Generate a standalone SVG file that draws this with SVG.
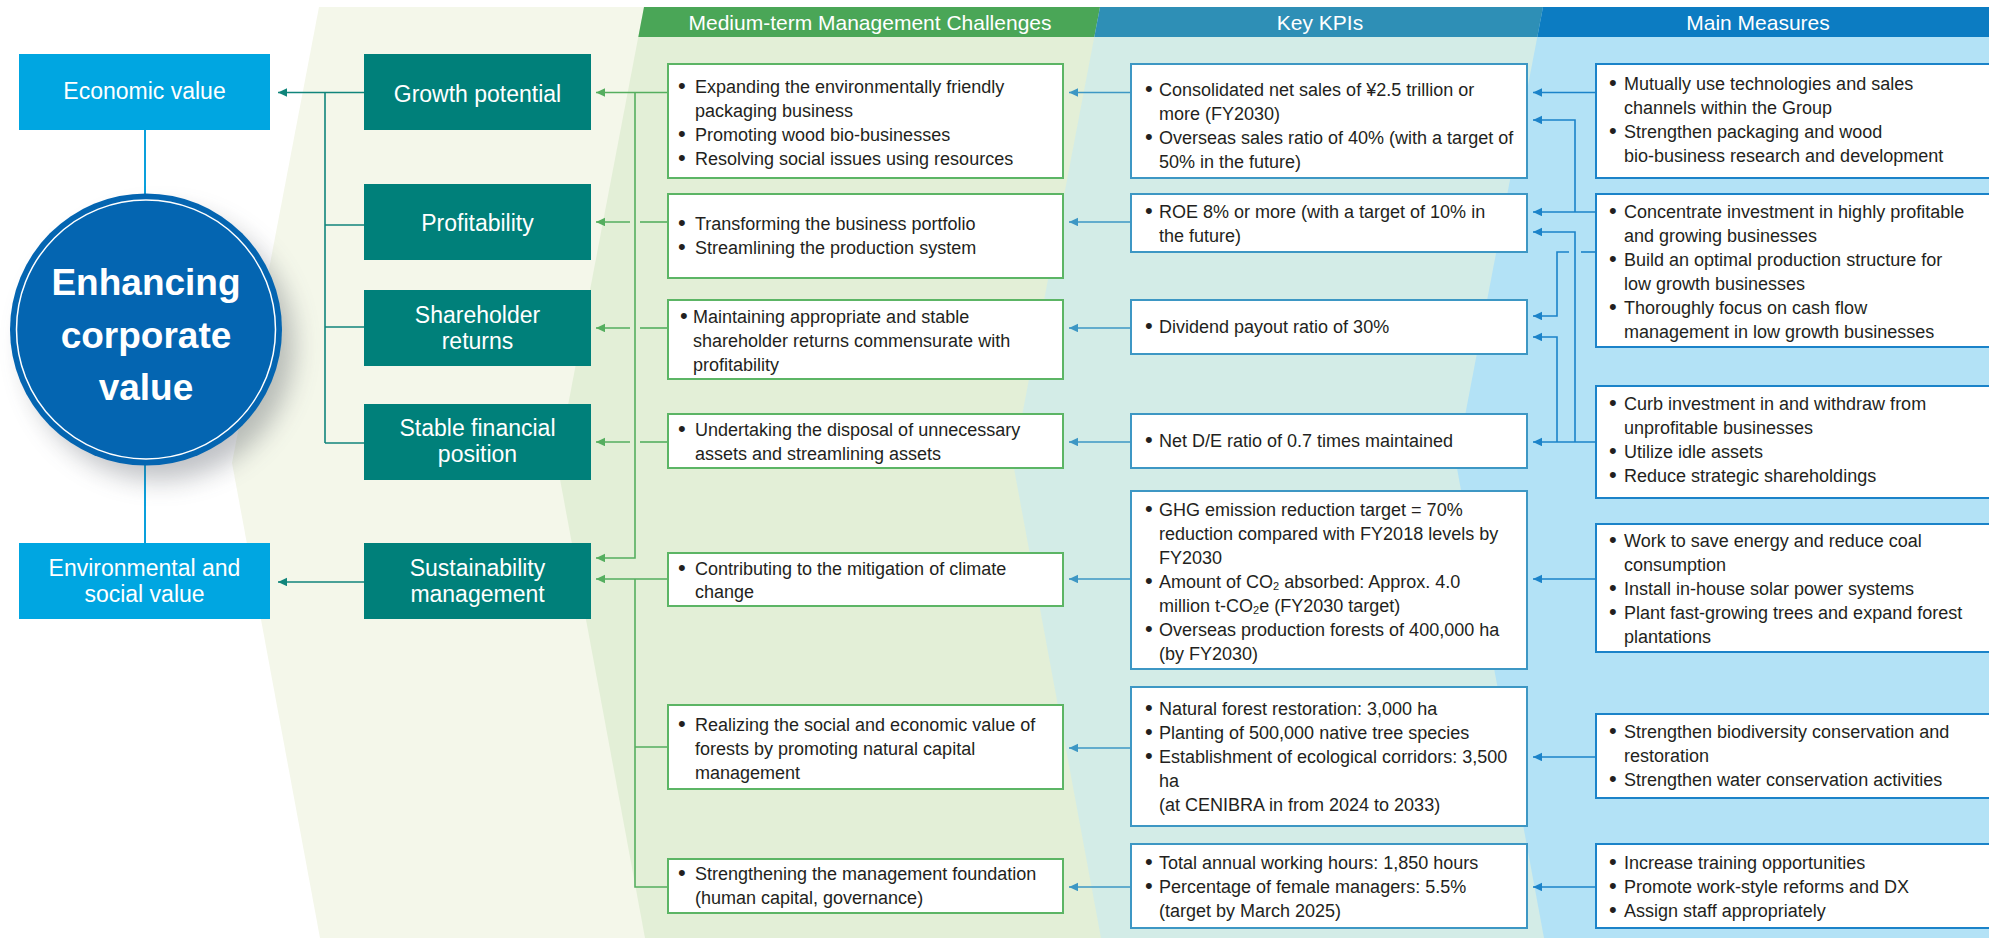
<svg xmlns="http://www.w3.org/2000/svg" width="1989" height="938" viewBox="0 0 1989 938">
<defs>
<style>
text{font-family:"Liberation Sans",Arial,Helvetica,sans-serif;}
.t{font-size:18px;fill:#231f20;}
.b{font-size:22px;}
.w{font-size:23px;fill:#fff;text-anchor:middle;}
.h{font-size:21px;fill:#fff;text-anchor:middle;}
.big{font-size:37px;font-weight:bold;fill:#fff;text-anchor:middle;}
.ch{fill:#fff;stroke:#5cb565;stroke-width:2;}
.kp{fill:#fff;stroke:#3d97c4;stroke-width:2;}
.ms{fill:#fff;stroke:#1b83c9;stroke-width:2;}
.teal{fill:#00807a;}
.val{fill:#00a6e1;}
.cg{stroke:#55ae5f;stroke-width:1.6;fill:none;}
.ct{stroke:#10857b;stroke-width:1.6;fill:none;}
.ck{stroke:#3d97c4;stroke-width:1.6;fill:none;}
.cm{stroke:#1b83c9;stroke-width:1.6;fill:none;}
.cb{stroke:#0aa0dc;stroke-width:2;fill:none;}
.ag{marker-end:url(#mg);}
.at{marker-end:url(#mt);}
.ak{marker-end:url(#mk);}
.am{marker-end:url(#mm);}
</style>
<marker id="mg" markerUnits="userSpaceOnUse" markerWidth="10" markerHeight="10" refX="9" refY="4.25" orient="auto"><path d="M0,0 L9,4.25 L0,8.5 z" fill="#55ae5f"/></marker>
<marker id="mt" markerUnits="userSpaceOnUse" markerWidth="10" markerHeight="10" refX="9" refY="4.25" orient="auto"><path d="M0,0 L9,4.25 L0,8.5 z" fill="#10857b"/></marker>
<marker id="mk" markerUnits="userSpaceOnUse" markerWidth="10" markerHeight="10" refX="9" refY="4.25" orient="auto"><path d="M0,0 L9,4.25 L0,8.5 z" fill="#3d97c4"/></marker>
<marker id="mm" markerUnits="userSpaceOnUse" markerWidth="10" markerHeight="10" refX="9" refY="4.25" orient="auto"><path d="M0,0 L9,4.25 L0,8.5 z" fill="#1b83c9"/></marker>
<filter id="shadow" x="-50%" y="-50%" width="200%" height="200%"><feGaussianBlur stdDeviation="13"/></filter>
</defs>

<g id="background">
<rect x="0" y="0" width="1989" height="938" fill="#ffffff"/>
<polygon points="319,7 232,463 320,938 1989,938 1989,7" fill="#f4f7ea"/>
<polygon points="644,7 557,463 645,938 1989,938 1989,7" fill="#e3efd7"/>
<polygon points="1100,7 1013,463 1101,938 1989,938 1989,7" fill="#d3ece7"/>
<polygon points="1543,7 1456,463 1544,938 1989,938 1989,7" fill="#b3e2f6"/>
</g>

<g id="headers">
<polygon points="644,7 1100,7 1094.3,37 638.3,37" fill="#4aa657"/>
<polygon points="1100,7 1543,7 1537.3,37 1094.3,37" fill="#2e8fb6"/>
<polygon points="1543,7 1989,7 1989,37 1537.3,37" fill="#0c7cc2"/>
<text class="h" x="870" y="30">Medium-term Management Challenges</text>
<text class="h" x="1320" y="30">Key KPIs</text>
<text class="h" x="1758" y="30">Main Measures</text>
</g>

<g id="connectors">
<line class="cb" x1="145" y1="130" x2="145" y2="195"/>
<line class="cb" x1="145" y1="464" x2="145" y2="543"/>
<line class="ct at" x1="364" y1="92.5" x2="278" y2="92.5"/>
<line class="ct" x1="325" y1="92.5" x2="325" y2="443"/>
<line class="ct" x1="325" y1="225" x2="364" y2="225"/>
<line class="ct" x1="325" y1="327" x2="364" y2="327"/>
<line class="ct" x1="325" y1="443" x2="364" y2="443"/>
<line class="ct at" x1="364" y1="582" x2="278" y2="582"/>
<line class="cg ag" x1="668" y1="92.5" x2="596" y2="92.5"/>
<polyline class="cg ag" points="635,92.5 635,558 596,558"/>
<line class="cg" x1="668" y1="222" x2="640" y2="222"/>
<line class="cg ag" x1="630" y1="222" x2="596" y2="222"/>
<line class="cg" x1="668" y1="328" x2="640" y2="328"/>
<line class="cg ag" x1="630" y1="328" x2="596" y2="328"/>
<line class="cg" x1="668" y1="442" x2="640" y2="442"/>
<line class="cg ag" x1="630" y1="442" x2="596" y2="442"/>
<line class="cg ag" x1="668" y1="579" x2="596" y2="579"/>
<polyline class="cg" points="635,579 635,887 668,887"/>
<line class="cg" x1="635" y1="747" x2="668" y2="747"/>
<line class="ck ak" x1="1131" y1="92.5" x2="1069" y2="92.5"/>
<line class="ck ak" x1="1131" y1="222" x2="1069" y2="222"/>
<line class="ck ak" x1="1131" y1="328" x2="1069" y2="328"/>
<line class="ck ak" x1="1131" y1="442" x2="1069" y2="442"/>
<line class="ck ak" x1="1131" y1="579" x2="1069" y2="579"/>
<line class="ck ak" x1="1131" y1="748" x2="1069" y2="748"/>
<line class="ck ak" x1="1131" y1="887" x2="1069" y2="887"/>
<line class="cm am" x1="1596" y1="92.5" x2="1533" y2="92.5"/>
<polyline class="cm am" points="1575,212 1575,120 1533,120"/>
<line class="cm am" x1="1596" y1="212" x2="1533" y2="212"/>
<polyline class="cm am" points="1575,442 1575,232 1533,232"/>
<line class="cm" x1="1596" y1="252" x2="1581" y2="252"/>
<polyline class="cm am" points="1569,252 1557,252 1557,316 1533,316"/>
<polyline class="cm am" points="1557,442 1557,337 1533,337"/>
<line class="cm am" x1="1596" y1="442" x2="1533" y2="442"/>
<line class="cm am" x1="1596" y1="579" x2="1533" y2="579"/>
<line class="cm am" x1="1596" y1="757" x2="1533" y2="757"/>
<line class="cm am" x1="1596" y1="887" x2="1533" y2="887"/>
</g>

<g id="node-enhancing">
<circle cx="160" cy="346" r="134" fill="#4a4f5a" opacity="0.35" filter="url(#shadow)"/>
<circle cx="146" cy="329.5" r="136" fill="#0465b1"/>
<circle cx="146" cy="329.5" r="129.5" fill="none" stroke="#ffffff" stroke-width="1.5"/>
<text class="big" x="146" y="295">Enhancing</text>
<text class="big" x="146" y="348">corporate</text>
<text class="big" x="146" y="400">value</text>
</g>

<g id="node-economic">
<rect class="val" x="19" y="54" width="251" height="76"/>
<text class="w" x="144.5" y="99">Economic value</text>
</g>
<g id="node-envsocial">
<rect class="val" x="19" y="543" width="251" height="76"/>
<text class="w" x="144.5" y="576">Environmental and</text>
<text class="w" x="144.5" y="602">social value</text>
</g>

<g id="node-growth">
<rect class="teal" x="364" y="54" width="227" height="76"/>
<text class="w" x="477.5" y="102">Growth potential</text>
</g>
<g id="node-profitability">
<rect class="teal" x="364" y="184" width="227" height="76"/>
<text class="w" x="477.5" y="231">Profitability</text>
</g>
<g id="node-shareholder">
<rect class="teal" x="364" y="290" width="227" height="76"/>
<text class="w" x="477.5" y="323">Shareholder</text>
<text class="w" x="477.5" y="349">returns</text>
</g>
<g id="node-stable">
<rect class="teal" x="364" y="404" width="227" height="76"/>
<text class="w" x="477.5" y="436">Stable financial</text>
<text class="w" x="477.5" y="462">position</text>
</g>
<g id="node-sustainability">
<rect class="teal" x="364" y="543" width="227" height="76"/>
<text class="w" x="477.5" y="576">Sustainability</text>
<text class="w" x="477.5" y="602">management</text>
</g>

<g id="node-c1">
<rect class="ch" x="668" y="64" width="395" height="114"/>
<text class="t" y="93"><tspan class="b" x="678">•</tspan><tspan x="695">Expanding the environmentally friendly</tspan></text>
<text class="t" x="695" y="117">packaging business</text>
<text class="t" y="141"><tspan class="b" x="678">•</tspan><tspan x="695">Promoting wood bio-businesses</tspan></text>
<text class="t" y="165"><tspan class="b" x="678">•</tspan><tspan x="695">Resolving social issues using resources</tspan></text>
</g>
<g id="node-c2">
<rect class="ch" x="668" y="194" width="395" height="84"/>
<text class="t" y="230"><tspan class="b" x="678">•</tspan><tspan x="695">Transforming the business portfolio</tspan></text>
<text class="t" y="254"><tspan class="b" x="678">•</tspan><tspan x="695">Streamlining the production system</tspan></text>
</g>
<g id="node-c3">
<rect class="ch" x="668" y="300" width="395" height="79"/>
<text class="t" y="323"><tspan class="b" x="680">•</tspan><tspan x="693">Maintaining appropriate and stable</tspan></text>
<text class="t" x="693" y="347">shareholder returns commensurate with</text>
<text class="t" x="693" y="371">profitability</text>
</g>
<g id="node-c4">
<rect class="ch" x="668" y="414" width="395" height="54"/>
<text class="t" y="436"><tspan class="b" x="678">•</tspan><tspan x="695">Undertaking the disposal of unnecessary</tspan></text>
<text class="t" x="695" y="460">assets and streamlining assets</text>
</g>
<g id="node-c5">
<rect class="ch" x="668" y="553" width="395" height="53"/>
<text class="t" y="575"><tspan class="b" x="678">•</tspan><tspan x="695">Contributing to the mitigation of climate</tspan></text>
<text class="t" x="695" y="598">change</text>
</g>
<g id="node-c6">
<rect class="ch" x="668" y="705" width="395" height="84"/>
<text class="t" y="731"><tspan class="b" x="678">•</tspan><tspan x="695">Realizing the social and economic value of</tspan></text>
<text class="t" x="695" y="755">forests by promoting natural capital</text>
<text class="t" x="695" y="779">management</text>
</g>
<g id="node-c7">
<rect class="ch" x="668" y="859" width="395" height="54"/>
<text class="t" y="880"><tspan class="b" x="678">•</tspan><tspan x="695">Strengthening the management foundation</tspan></text>
<text class="t" x="695" y="904">(human capital, governance)</text>
</g>

<g id="node-k1">
<rect class="kp" x="1131" y="64" width="396" height="114"/>
<text class="t" y="96"><tspan class="b" x="1145">•</tspan><tspan x="1159">Consolidated net sales of ¥2.5 trillion or</tspan></text>
<text class="t" x="1159" y="120">more (FY2030)</text>
<text class="t" y="144"><tspan class="b" x="1145">•</tspan><tspan x="1159">Overseas sales ratio of 40% (with a target of</tspan></text>
<text class="t" x="1159" y="168">50% in the future)</text>
</g>
<g id="node-k2">
<rect class="kp" x="1131" y="194" width="396" height="58"/>
<text class="t" y="218"><tspan class="b" x="1145">•</tspan><tspan x="1159">ROE 8% or more (with a target of 10% in</tspan></text>
<text class="t" x="1159" y="242">the future)</text>
</g>
<g id="node-k3">
<rect class="kp" x="1131" y="300" width="396" height="54"/>
<text class="t" y="333"><tspan class="b" x="1145">•</tspan><tspan x="1159">Dividend payout ratio of 30%</tspan></text>
</g>
<g id="node-k4">
<rect class="kp" x="1131" y="414" width="396" height="54"/>
<text class="t" y="447"><tspan class="b" x="1145">•</tspan><tspan x="1159">Net D/E ratio of 0.7 times maintained</tspan></text>
</g>
<g id="node-k5">
<rect class="kp" x="1131" y="491" width="396" height="178"/>
<text class="t" y="515.5"><tspan class="b" x="1145">•</tspan><tspan x="1159">GHG emission reduction target = 70%</tspan></text>
<text class="t" x="1159" y="539.5">reduction compared with FY2018 levels by</text>
<text class="t" x="1159" y="563.5">FY2030</text>
<text class="t" y="587.5"><tspan class="b" x="1145">•</tspan><tspan x="1159">Amount of CO</tspan><tspan font-size="11" dy="2">2</tspan><tspan dy="-2"> absorbed: Approx. 4.0</tspan></text>
<text class="t" x="1159" y="611.5">million t-CO<tspan font-size="11" dy="2">2</tspan><tspan dy="-2">e (FY2030 target)</tspan></text>
<text class="t" y="635.5"><tspan class="b" x="1145">•</tspan><tspan x="1159">Overseas production forests of 400,000 ha</tspan></text>
<text class="t" x="1159" y="659.5">(by FY2030)</text>
</g>
<g id="node-k6">
<rect class="kp" x="1131" y="687" width="396" height="139"/>
<text class="t" y="715"><tspan class="b" x="1145">•</tspan><tspan x="1159">Natural forest restoration: 3,000 ha</tspan></text>
<text class="t" y="739"><tspan class="b" x="1145">•</tspan><tspan x="1159">Planting of 500,000 native tree species</tspan></text>
<text class="t" y="763"><tspan class="b" x="1145">•</tspan><tspan x="1159">Establishment of ecological corridors: 3,500</tspan></text>
<text class="t" x="1159" y="787">ha</text>
<text class="t" x="1159" y="811">(at CENIBRA in from 2024 to 2033)</text>
</g>
<g id="node-k7">
<rect class="kp" x="1131" y="844" width="396" height="84"/>
<text class="t" y="869"><tspan class="b" x="1145">•</tspan><tspan x="1159">Total annual working hours: 1,850 hours</tspan></text>
<text class="t" y="893"><tspan class="b" x="1145">•</tspan><tspan x="1159">Percentage of female managers: 5.5%</tspan></text>
<text class="t" x="1159" y="917">(target by March 2025)</text>
</g>

<g id="node-m1">
<rect class="ms" x="1596" y="64" width="400" height="114"/>
<text class="t" y="90"><tspan class="b" x="1609">•</tspan><tspan x="1624">Mutually use technologies and sales</tspan></text>
<text class="t" x="1624" y="114">channels within the Group</text>
<text class="t" y="138"><tspan class="b" x="1609">•</tspan><tspan x="1624">Strengthen packaging and wood</tspan></text>
<text class="t" x="1624" y="162">bio-business research and development</text>
</g>
<g id="node-m2">
<rect class="ms" x="1596" y="194" width="400" height="153"/>
<text class="t" y="217.5"><tspan class="b" x="1609">•</tspan><tspan x="1624">Concentrate investment in highly profitable</tspan></text>
<text class="t" x="1624" y="241.5">and growing businesses</text>
<text class="t" y="265.5"><tspan class="b" x="1609">•</tspan><tspan x="1624">Build an optimal production structure for</tspan></text>
<text class="t" x="1624" y="289.5">low growth businesses</text>
<text class="t" y="313.5"><tspan class="b" x="1609">•</tspan><tspan x="1624">Thoroughly focus on cash flow</tspan></text>
<text class="t" x="1624" y="337.5">management in low growth businesses</text>
</g>
<g id="node-m3">
<rect class="ms" x="1596" y="386" width="400" height="112"/>
<text class="t" y="410"><tspan class="b" x="1609">•</tspan><tspan x="1624">Curb investment in and withdraw from</tspan></text>
<text class="t" x="1624" y="434">unprofitable businesses</text>
<text class="t" y="458"><tspan class="b" x="1609">•</tspan><tspan x="1624">Utilize idle assets</tspan></text>
<text class="t" y="482"><tspan class="b" x="1609">•</tspan><tspan x="1624">Reduce strategic shareholdings</tspan></text>
</g>
<g id="node-m4">
<rect class="ms" x="1596" y="524" width="400" height="128"/>
<text class="t" y="546.5"><tspan class="b" x="1609">•</tspan><tspan x="1624">Work to save energy and reduce coal</tspan></text>
<text class="t" x="1624" y="570.5">consumption</text>
<text class="t" y="594.5"><tspan class="b" x="1609">•</tspan><tspan x="1624">Install in-house solar power systems</tspan></text>
<text class="t" y="618.5"><tspan class="b" x="1609">•</tspan><tspan x="1624">Plant fast-growing trees and expand forest</tspan></text>
<text class="t" x="1624" y="642.5">plantations</text>
</g>
<g id="node-m5">
<rect class="ms" x="1596" y="714" width="400" height="84"/>
<text class="t" y="738"><tspan class="b" x="1609">•</tspan><tspan x="1624">Strengthen biodiversity conservation and</tspan></text>
<text class="t" x="1624" y="762">restoration</text>
<text class="t" y="786"><tspan class="b" x="1609">•</tspan><tspan x="1624">Strengthen water conservation activities</tspan></text>
</g>
<g id="node-m6">
<rect class="ms" x="1596" y="844" width="400" height="84"/>
<text class="t" y="869"><tspan class="b" x="1609">•</tspan><tspan x="1624">Increase training opportunities</tspan></text>
<text class="t" y="893"><tspan class="b" x="1609">•</tspan><tspan x="1624">Promote work-style reforms and DX</tspan></text>
<text class="t" y="917"><tspan class="b" x="1609">•</tspan><tspan x="1624">Assign staff appropriately</tspan></text>
</g>
</svg>
